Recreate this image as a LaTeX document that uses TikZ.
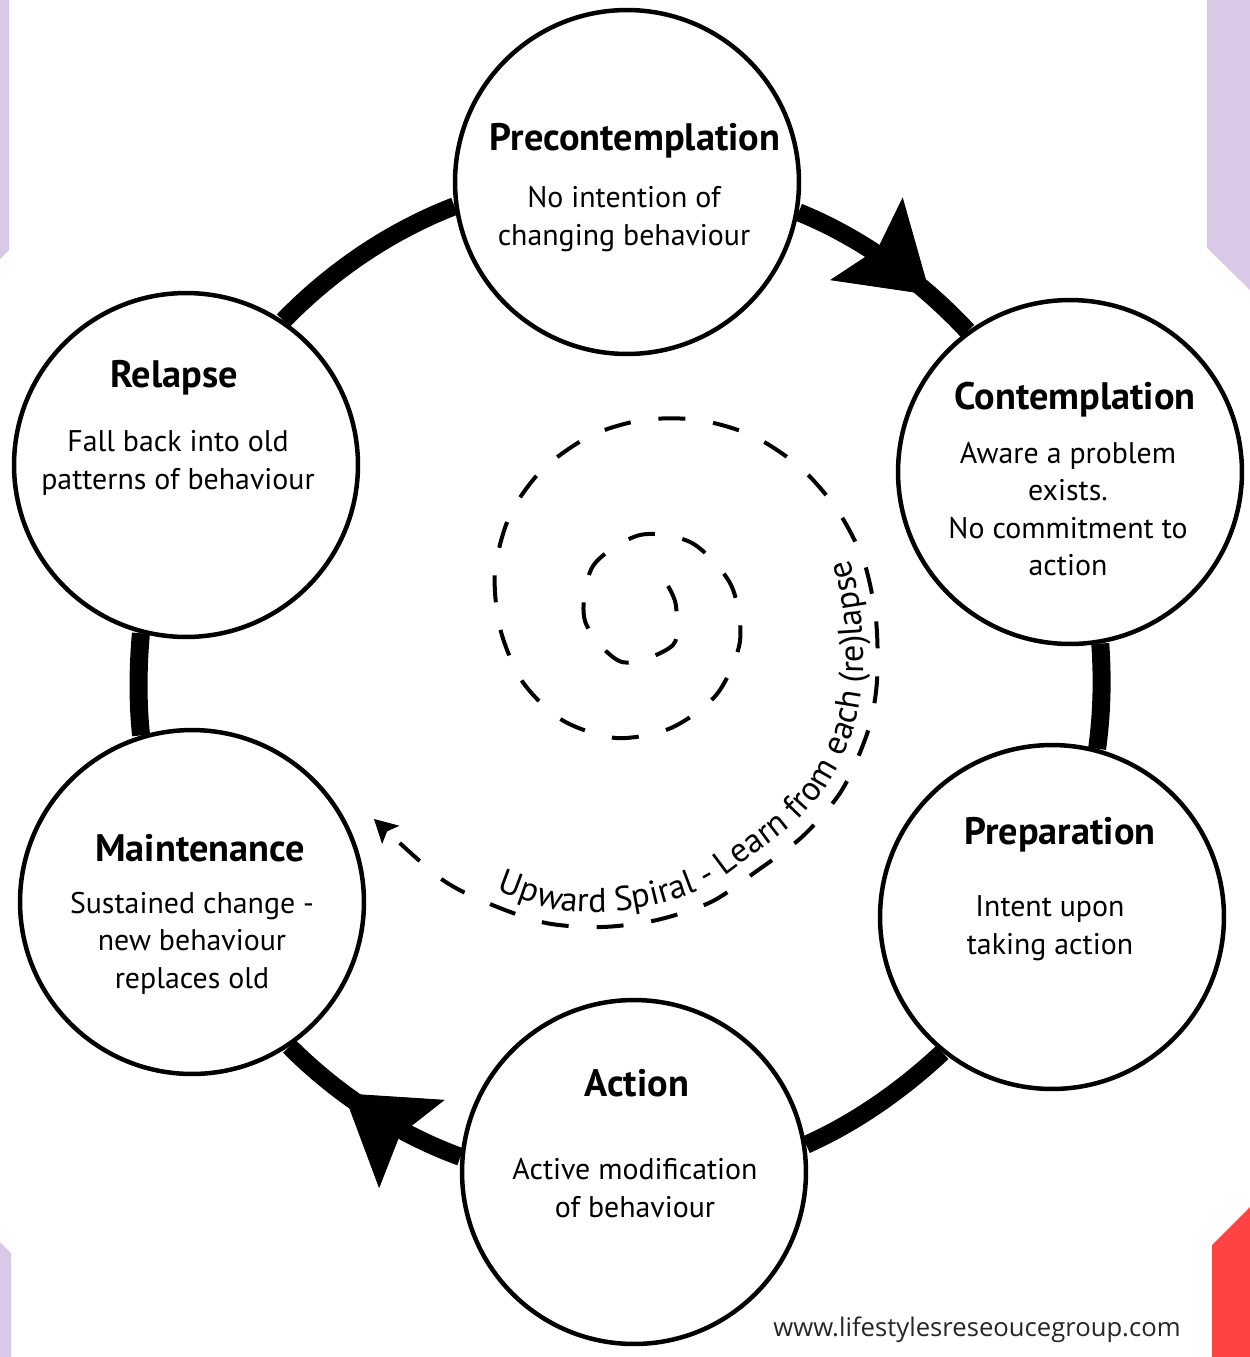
\documentclass[tikz,border=0pt]{standalone}
\usepackage{fontspec}
\setmainfont{PT Sans}
\newfontfamily\urlfont{Open Sans}
\usetikzlibrary{arrows.meta,decorations.markings,decorations.text,backgrounds}
\definecolor{cornerlilac}{RGB}{217,201,230}
\definecolor{cornerred}{RGB}{255,66,66}

\begin{document}
\begin{tikzpicture}[x=0.02cm, y=0.02cm,
  stage/.style={draw, circle, line width=0.09cm, minimum size=6.88cm, inner sep=0pt, fill=white},
  title/.style={font=\bfseries\fontsize{21.8}{24}\selectfont},
  desc/.style={align=center, font=\fontsize{17}{21.4}\selectfont},
  ring/.style={line width=0.36cm, looseness=0.85},
  bigtip/.style={postaction={decorate, decoration={markings,
    mark=at position #1 with {\arrow{Stealth[length=1.7cm, width=2.2cm, inset=0.3cm, line width=0.5pt]}}}}},
  spiral/.style={line width=0.08cm, dash pattern=on 0.54cm off 0.56cm,
    -{Stealth[length=0.46cm, width=0.5cm, inset=0.1cm, line width=0.5pt]}}
]
\useasboundingbox (0,0) rectangle (1250,-1357);
\fill[cornerlilac] (0,0) -- (9,0) -- (9,-250) -- (0,-259) -- cycle;
\fill[cornerlilac] (1207,0) -- (1250,0) -- (1250,-290) -- (1207,-248) -- cycle;
\fill[cornerlilac] (0,-1242) -- (11,-1253) -- (11,-1357) -- (0,-1357) -- cycle;
\fill[cornerred] (1212,-1245) -- (1250,-1207) -- (1250,-1357) -- (1212,-1357) -- cycle;

\node[stage] (pre) at (627,-182) {};
\node[stage] (con) at (1070,-472) {};
\node[stage] (prep) at (1052,-917) {};
\node[stage] (act) at (634,-1172) {};
\node[stage] (mai) at (192,-902) {};
\node[stage] (rel) at (186,-465) {};

\begin{scope}[on background layer]
\draw[ring, bigtip=0.75] (pre.-10) to[out=-22, in=133] (con.126);
\draw[ring] (con.-80) to[out=-86, in=82] (prep.75);
\draw[ring] (prep.-129) to[out=-137, in=24] (act.9);
\draw[ring, bigtip=0.65] (act.175) to[out=160, in=-45] (mai.-56);
\draw[ring] (mai.107) to[out=96, in=-95] (rel.-105);
\draw[ring] (rel.56) to[out=46, in=201] (pre.188);
\end{scope}

\node[title] (pre-t) at (635,-141) {Precontemplation};
\node[desc] (pre-d) at (624,-219) {No intention of\\changing behaviour};
\node[title] (con-t) at (1075,-400) {Contemplation};
\node[desc] (con-d) at (1068,-509) {Aware a problem\\exists.\\No commitment to\\action};
\node[title] (prep-t) at (1060,-835) {Preparation};
\node[desc] (prep-d) at (1050,-928) {Intent upon\\taking action};
\node[title] (act-t) at (637,-1083) {Action};
\node[desc] (act-d) at (635,-1188) {Active modification\\of behaviour};
\node[title] (mai-t) at (200,-848) {Maintenance};
\node[desc] (mai-d) at (192,-943) {Sustained change -\\new behaviour\\replaces old};
\node[title] (rel-t) at (174,-378) {Relapse};
\node[desc] (rel-d) at (178,-463) {Fall back into old\\patterns of behaviour};

\draw[spiral] plot[smooth] coordinates {(668,-586) (676,-606) (673,-645) (622,-662) (585,-621) (593,-566)
  (640,-535) (692,-543) (731,-585) (740,-641) (717,-694) (671,-728) (616,-738) (562,-720)
  (522,-681) (500,-628) (495,-571) (510,-515) (542,-470) (590,-436) (643,-420) (699,-420)
  (753,-436) (801,-468) (838,-511) (864,-562) (876,-620) (877,-681) (868,-731) (842,-790)
  (803,-836) (754,-873) (711,-902) (657,-920) (602,-927) (546,-923) (490,-904) (440,-878) (374,-819)};
\path[decorate, decoration={text along path,
  text={|\fontsize{19.5}{22}\selectfont|Upward Spiral - Learn from each (re)lapse}}]
  plot[smooth] coordinates {(497,-890) (553,-909) (606,-912) (658,-904) (709,-886) (749,-858)
  (795,-823) (831,-780) (855,-725) (863,-678) (862,-622) (852,-567) (828,-519) (793,-477)};

\node[font=\urlfont\fontsize{14.6}{17}\selectfont, text=black!85] (web) at (977,-1330) {www.lifestylesreseoucegroup.com};
\end{tikzpicture}
\end{document}
